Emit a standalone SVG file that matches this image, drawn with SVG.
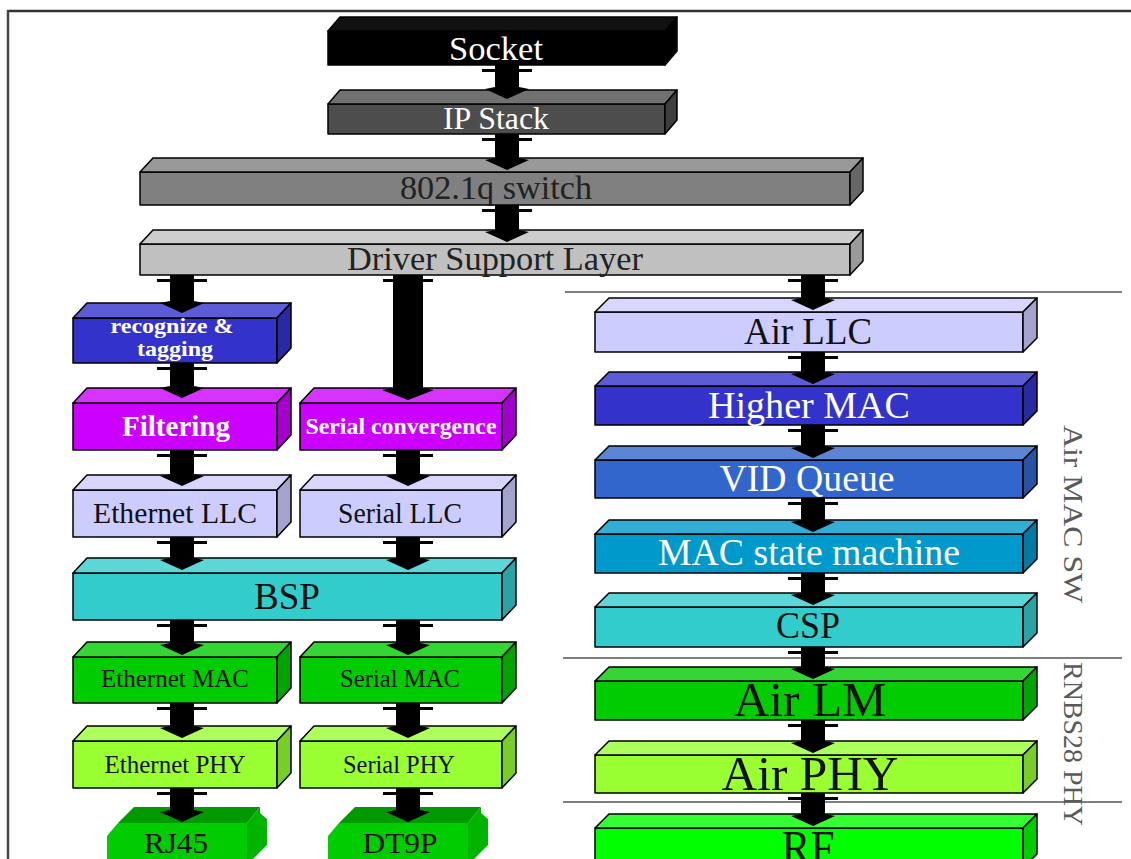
<svg xmlns="http://www.w3.org/2000/svg" width="1131" height="859" viewBox="0 0 1131 859">
<style>
.b{stroke:#000;stroke-width:1.5;stroke-linejoin:round}
.t{font-family:"Liberation Serif","Times New Roman",serif;text-anchor:middle}
.w{fill:#fff}
.k{fill:#111}
.bd{font-weight:bold}
.arr{fill:#000}
.sep{stroke:#000;stroke-width:1.2}
.vt{font-family:"Liberation Serif","Times New Roman",serif;text-anchor:middle;fill:#5a5a5a;font-size:28px}
.cf{fill:#00cc00}.ct{fill:#009a00}.cs{fill:#00b400}
</style>
<rect x="0" y="0" width="1131" height="859" fill="#fff"/>
<g id="frame">
<line x1="7" y1="11" x2="1131" y2="11" stroke="#333" stroke-width="2.5"/>
<line x1="8" y1="10" x2="8" y2="859" stroke="#444" stroke-width="2.5"/>
<line class="sep" x1="565" y1="292" x2="1122" y2="292"/>
<line class="sep" x1="563" y1="658" x2="1122" y2="658"/>
<line class="sep" x1="563" y1="802" x2="1122" y2="802"/>
</g>

<g id="socket">
<rect class="b" x="328" y="31" width="337" height="34" fill="#000"/>
<polygon class="b" points="328,31 340,17 677,17 665,31" fill="#111"/>
<polygon class="b" points="665,31 677,17 677,51 665,65" fill="#000"/>
<text class="t w" x="496" y="60" font-size="33" textLength="94" lengthAdjust="spacingAndGlyphs">Socket</text>
</g>
<g id="ipstack">
<rect class="b" x="328" y="104" width="337" height="30" fill="#4d4d4d"/>
<polygon class="b" points="328,104 340,90 677,90 665,104" fill="#717171"/>
<polygon class="b" points="665,104 677,90 677,120 665,134" fill="#3e3e3e"/>
<text class="t w" x="496" y="129" font-size="31" textLength="106" lengthAdjust="spacingAndGlyphs">IP Stack</text>
</g>
<g id="switch">
<rect class="b" x="140" y="172" width="710" height="33" fill="#808080"/>
<polygon class="b" points="140,172 153,158 863,158 850,172" fill="#999"/>
<polygon class="b" points="850,172 863,158 863,191 850,205" fill="#666"/>
<text class="t" fill="#222" x="496" y="199" font-size="33" textLength="192" lengthAdjust="spacingAndGlyphs">802.1q switch</text>
</g>
<g id="dsl">
<rect class="b" x="140" y="244" width="710" height="31" fill="#c0c0c0"/>
<polygon class="b" points="140,244 153,230 863,230 850,244" fill="#cdcdcd"/>
<polygon class="b" points="850,244 863,230 863,261 850,275" fill="#9a9a9a"/>
<text class="t" fill="#222" x="495" y="270" font-size="33" textLength="296" lengthAdjust="spacingAndGlyphs">Driver Support Layer</text>
</g>

<g id="recognize">
<rect class="b" x="73" y="318" width="204" height="45" fill="#3333cc"/>
<polygon class="b" points="73,318 87,303 291,303 277,318" fill="#5c5cd6"/>
<polygon class="b" points="277,318 291,303 291,348 277,363" fill="#2929a3"/>
<text class="t w bd" x="172" y="333" font-size="21" textLength="123" lengthAdjust="spacingAndGlyphs">recognize &amp;</text>
<text class="t w bd" x="175" y="356" font-size="21" textLength="76" lengthAdjust="spacingAndGlyphs">tagging</text>
</g>
<g id="filtering">
<rect class="b" x="73" y="403" width="204" height="47" fill="#cc00ff"/>
<polygon class="b" points="73,403 87,388 291,388 277,403" fill="#d633ff"/>
<polygon class="b" points="277,403 291,388 291,435 277,450" fill="#a300cc"/>
<text class="t w bd" x="176" y="436" font-size="29" textLength="108" lengthAdjust="spacingAndGlyphs">Filtering</text>
</g>
<g id="serialconv">
<rect class="b" x="300" y="403" width="202" height="47" fill="#cc00ff"/>
<polygon class="b" points="300,403 314,388 516,388 502,403" fill="#d633ff"/>
<polygon class="b" points="502,403 516,388 516,435 502,450" fill="#a300cc"/>
<text class="t w bd" x="401" y="434" font-size="23" textLength="191" lengthAdjust="spacingAndGlyphs">Serial convergence</text>
</g>
<g id="ethllc">
<rect class="b" x="73" y="490" width="204" height="47" fill="#ccccff"/>
<polygon class="b" points="73,490 87,475 291,475 277,490" fill="#d6d6ff"/>
<polygon class="b" points="277,490 291,475 291,522 277,537" fill="#a3a3cc"/>
<text class="t k" x="175" y="523" font-size="29" textLength="164" lengthAdjust="spacingAndGlyphs">Ethernet LLC</text>
</g>
<g id="serllc">
<rect class="b" x="300" y="490" width="202" height="47" fill="#ccccff"/>
<polygon class="b" points="300,490 314,475 516,475 502,490" fill="#d6d6ff"/>
<polygon class="b" points="502,490 516,475 516,522 502,537" fill="#a3a3cc"/>
<text class="t k" x="400" y="523" font-size="29" textLength="124" lengthAdjust="spacingAndGlyphs">Serial LLC</text>
</g>
<g id="bsp">
<rect class="b" x="73" y="573" width="429" height="47" fill="#33cccc"/>
<polygon class="b" points="73,573 87,558 516,558 502,573" fill="#5cd6d6"/>
<polygon class="b" points="502,573 516,558 516,605 502,620" fill="#29a3a3"/>
<text class="t k" x="287" y="609" font-size="37" textLength="66" lengthAdjust="spacingAndGlyphs">BSP</text>
</g>
<g id="ethmac">
<rect class="b" x="73" y="657" width="204" height="46" fill="#00cc00"/>
<polygon class="b" points="73,657 87,642 291,642 277,657" fill="#33d633"/>
<polygon class="b" points="277,657 291,642 291,688 277,703" fill="#00a300"/>
<text class="t k" x="175" y="687" font-size="25" textLength="148" lengthAdjust="spacingAndGlyphs">Ethernet MAC</text>
</g>
<g id="sermac">
<rect class="b" x="300" y="657" width="202" height="46" fill="#00cc00"/>
<polygon class="b" points="300,657 314,642 516,642 502,657" fill="#33d633"/>
<polygon class="b" points="502,657 516,642 516,688 502,703" fill="#00a300"/>
<text class="t k" x="400" y="687" font-size="25" textLength="120" lengthAdjust="spacingAndGlyphs">Serial MAC</text>
</g>
<g id="ethphy">
<rect class="b" x="73" y="741" width="204" height="47" fill="#99ff33"/>
<polygon class="b" points="73,741 87,726 291,726 277,741" fill="#adff5c"/>
<polygon class="b" points="277,741 291,726 291,773 277,788" fill="#7acc29"/>
<text class="t k" x="175" y="773" font-size="25" textLength="141" lengthAdjust="spacingAndGlyphs">Ethernet PHY</text>
</g>
<g id="serphy">
<rect class="b" x="300" y="741" width="202" height="47" fill="#99ff33"/>
<polygon class="b" points="300,741 314,726 516,726 502,741" fill="#adff5c"/>
<polygon class="b" points="502,741 516,726 516,773 502,788" fill="#7acc29"/>
<text class="t k" x="399" y="773" font-size="25" textLength="112" lengthAdjust="spacingAndGlyphs">Serial PHY</text>
</g>
<g id="rj45">
<path class="cf" d="M107,836 L118,823 L247,823 L247,859 L107,859 Z"/>
<path class="ct" d="M118,823 L134,807 L260,807 L247,823 Z"/>
<path class="cs" d="M247,823 L260,807 L260,813 L267,819 L267,845 L253,859 L247,859 Z"/>
<text class="t k" x="176" y="853" font-size="30" textLength="64" lengthAdjust="spacingAndGlyphs">RJ45</text>
</g>
<g id="dt9p">
<path class="cf" d="M328,836 L339,823 L468,823 L468,859 L328,859 Z"/>
<path class="ct" d="M339,823 L355,807 L481,807 L468,823 Z"/>
<path class="cs" d="M468,823 L481,807 L481,813 L488,819 L488,845 L474,859 L468,859 Z"/>
<text class="t k" x="400" y="853" font-size="30" textLength="75" lengthAdjust="spacingAndGlyphs">DT9P</text>
</g>

<g id="airllc">
<rect class="b" x="595" y="312" width="428" height="40" fill="#ccccff"/>
<polygon class="b" points="595,312 609,298 1037,298 1023,312" fill="#d6d6ff"/>
<polygon class="b" points="1023,312 1037,298 1037,338 1023,352" fill="#a3a3cc"/>
<text class="t k" x="808" y="344" font-size="37" textLength="128" lengthAdjust="spacingAndGlyphs">Air LLC</text>
</g>
<g id="highermac">
<rect class="b" x="595" y="386" width="428" height="39" fill="#3333cc"/>
<polygon class="b" points="595,386 609,372 1037,372 1023,386" fill="#5c5cd6"/>
<polygon class="b" points="1023,386 1037,372 1037,411 1023,425" fill="#2929a3"/>
<text class="t w" x="809" y="418" font-size="37" textLength="202" lengthAdjust="spacingAndGlyphs">Higher MAC</text>
</g>
<g id="vidqueue">
<rect class="b" x="595" y="460" width="428" height="38" fill="#3366cc"/>
<polygon class="b" points="595,460 609,446 1037,446 1023,460" fill="#5c85d6"/>
<polygon class="b" points="1023,460 1037,446 1037,484 1023,498" fill="#2952a3"/>
<text class="t w" x="807" y="491" font-size="37" textLength="175" lengthAdjust="spacingAndGlyphs">VID Queue</text>
</g>
<g id="macsm">
<rect class="b" x="595" y="534" width="428" height="39" fill="#0099cc"/>
<polygon class="b" points="595,534 609,520 1037,520 1023,534" fill="#33add6"/>
<polygon class="b" points="1023,534 1037,520 1037,559 1023,573" fill="#007aa3"/>
<text class="t w" x="809" y="565" font-size="37" textLength="302" lengthAdjust="spacingAndGlyphs">MAC state machine</text>
</g>
<g id="csp">
<rect class="b" x="595" y="607" width="428" height="40" fill="#33cccc"/>
<polygon class="b" points="595,607 609,593 1037,593 1023,607" fill="#5cd6d6"/>
<polygon class="b" points="1023,607 1037,593 1037,633 1023,647" fill="#29a3a3"/>
<text class="t k" x="808" y="638" font-size="37" textLength="64" lengthAdjust="spacingAndGlyphs">CSP</text>
</g>
<g id="airlm">
<rect class="b" x="595" y="681" width="428" height="39" fill="#00cc00"/>
<polygon class="b" points="595,681 609,667 1037,667 1023,681" fill="#33d633"/>
<polygon class="b" points="1023,681 1037,667 1037,706 1023,720" fill="#00a300"/>
<text class="t k" x="810" y="716" font-size="49" textLength="153" lengthAdjust="spacingAndGlyphs">Air LM</text>
</g>
<g id="airphy">
<rect class="b" x="595" y="755" width="428" height="38" fill="#99ff33"/>
<polygon class="b" points="595,755 609,741 1037,741 1023,755" fill="#adff5c"/>
<polygon class="b" points="1023,755 1037,741 1037,779 1023,793" fill="#7acc29"/>
<text class="t k" x="810" y="790" font-size="49" textLength="177" lengthAdjust="spacingAndGlyphs">Air PHY</text>
</g>
<g id="rf">
<rect class="b" x="595" y="828" width="428" height="40" fill="#00ff00"/>
<polygon class="b" points="595,828 609,814 1037,814 1023,828" fill="#33ff33"/>
<polygon class="b" points="1023,828 1037,814 1037,854 1023,868" fill="#00cc00"/>
<text class="t k" x="808" y="864" font-size="49" textLength="53" lengthAdjust="spacingAndGlyphs">RF</text>
</g>

<g id="labels">
<text class="vt" transform="translate(1064,514) rotate(90)" textLength="178" lengthAdjust="spacingAndGlyphs">Air MAC SW</text>
<text class="vt" transform="translate(1064,744) rotate(90)" textLength="164" lengthAdjust="spacingAndGlyphs">RNBS28 PHY</text>
</g>

<g id="connectors" class="arr">
<path d="M495,65 H519 V69 H532 V72 H519 V87 L529,89 L507,99 L485,89 L495,87 V72 H482 V69 H495 Z"/>
<path d="M495,134 H519 V138 H532 V141 H519 V158 L529,160 L507,170 L485,160 L495,158 V141 H482 V138 H495 Z"/>
<path d="M495,205 H519 V209 H532 V212 H519 V230 L529,232 L507,242 L485,232 L495,230 V212 H482 V209 H495 Z"/>
<path d="M170,275 H194 V279 H207 V282 H194 V301 L204,303 L182,313 L160,303 L170,301 V282 H157 V279 H170 Z"/>
<path d="M393,275 H423 V279 H433 V282 H423 V388 L434,390 L408,400 L382,390 L393,388 V282 H383 V279 H393 Z"/>
<path d="M170,363 H194 V367 H207 V370 H194 V386 L204,388 L182,398 L160,388 L170,386 V370 H157 V367 H170 Z"/>
<path d="M170,450 H194 V454 H207 V457 H194 V474 L204,476 L182,486 L160,476 L170,474 V457 H157 V454 H170 Z"/>
<path d="M396,450 H420 V454 H433 V457 H420 V474 L430,476 L408,486 L386,476 L396,474 V457 H383 V454 H396 Z"/>
<path d="M170,537 H194 V541 H207 V544 H194 V558 L204,560 L182,570 L160,560 L170,558 V544 H157 V541 H170 Z"/>
<path d="M396,537 H420 V541 H433 V544 H420 V558 L430,560 L408,570 L386,560 L396,558 V544 H383 V541 H396 Z"/>
<path d="M170,620 H194 V624 H207 V627 H194 V643 L204,645 L182,655 L160,645 L170,643 V627 H157 V624 H170 Z"/>
<path d="M396,620 H420 V624 H433 V627 H420 V643 L430,645 L408,655 L386,645 L396,643 V627 H383 V624 H396 Z"/>
<path d="M170,703 H194 V707 H207 V710 H194 V726 L204,728 L182,738 L160,728 L170,726 V710 H157 V707 H170 Z"/>
<path d="M396,703 H420 V707 H433 V710 H420 V726 L430,728 L408,738 L386,728 L396,726 V710 H383 V707 H396 Z"/>
<path d="M170,788 H194 V792 H207 V795 H194 V810 L204,812 L182,822 L160,812 L170,810 V795 H157 V792 H170 Z"/>
<path d="M396,788 H420 V792 H433 V795 H420 V810 L430,812 L408,822 L386,812 L396,810 V795 H383 V792 H396 Z"/>
<path d="M801,275 H825 V279 H838 V282 H825 V298 L835,300 L813,310 L791,300 L801,298 V282 H788 V279 H801 Z"/>
<path d="M801,352 H825 V356 H838 V359 H825 V372 L835,374 L813,384 L791,374 L801,372 V359 H788 V356 H801 Z"/>
<path d="M801,425 H825 V429 H838 V432 H825 V446 L835,448 L813,458 L791,448 L801,446 V432 H788 V429 H801 Z"/>
<path d="M801,498 H825 V502 H838 V505 H825 V520 L835,522 L813,532 L791,522 L801,520 V505 H788 V502 H801 Z"/>
<path d="M801,573 H825 V577 H838 V580 H825 V593 L835,595 L813,605 L791,595 L801,593 V580 H788 V577 H801 Z"/>
<path d="M801,647 H825 V651 H838 V654 H825 V667 L835,669 L813,679 L791,669 L801,667 V654 H788 V651 H801 Z"/>
<path d="M801,720 H825 V724 H838 V727 H825 V741 L835,743 L813,753 L791,743 L801,741 V727 H788 V724 H801 Z"/>
<path d="M801,793 H825 V797 H838 V800 H825 V814 L835,816 L813,826 L791,816 L801,814 V800 H788 V797 H801 Z"/>
</g>
</svg>
